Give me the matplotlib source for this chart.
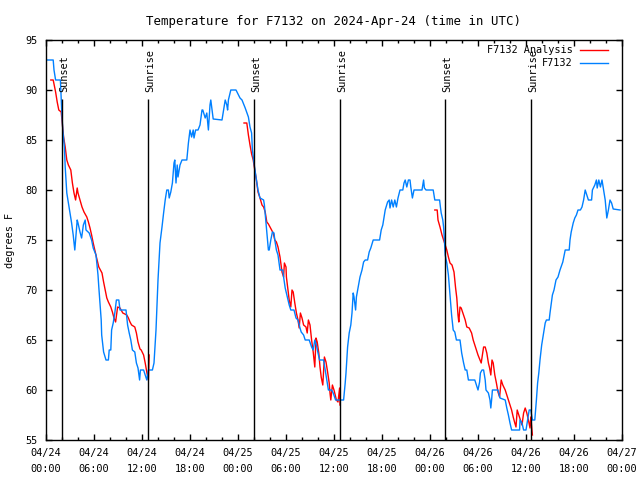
import numpy as np
import pandas as pd
import matplotlib
matplotlib.use('Agg')
import matplotlib.pyplot as plt
import matplotlib.dates as mdates

plt.rcParams['font.family'] = 'DejaVu Sans Mono'
plt.rcParams['font.size'] = 7.4

start = pd.Timestamp('2024-04-24 00:00')

# observed temperature (hours after start, deg F)
obs_hours = [
    0.0, 0.9, 1.0, 1.2, 1.8, 1.96, 2.1, 2.3, 2.4, 2.6, 2.9, 3.2, 3.4, 3.6, 3.9, 4.0,
    4.25, 4.45, 4.67, 4.9, 5.0, 5.4, 5.7, 5.9, 6.25, 6.5, 6.6, 6.75, 6.9, 6.96, 7.2,
    7.5, 7.8, 7.9, 8.1, 8.2, 8.4, 8.6, 8.8, 9.1, 9.25, 10.0, 10.2, 10.4, 10.6, 10.8,
    11.1, 11.3, 11.5, 11.7, 11.8, 12.2, 12.4, 12.6, 12.8, 13.3, 13.5, 13.6, 13.75,
    13.9, 14.0, 14.25, 14.5, 14.7, 14.9, 15.1, 15.3, 15.4, 15.6, 15.8, 16.0, 16.1,
    16.25, 16.4, 16.5, 16.75, 17.0, 17.6, 17.8, 18.0, 18.2, 18.4, 18.5, 18.7, 19.0,
    19.25, 19.5, 19.6, 19.9, 20.1, 20.3, 20.5, 20.6, 20.8, 20.9, 22.0, 22.2, 22.4,
    22.6, 22.7, 22.8, 23.1, 23.75, 24.0, 24.25, 24.5, 24.9, 25.3, 25.5, 25.7, 25.8,
    26.0, 26.25, 26.5, 26.75, 27.2, 27.3, 27.5, 27.6, 27.8, 27.9, 28.1, 28.3, 28.5,
    28.6, 28.8, 29.0, 29.25, 29.6, 29.7, 29.9, 30.2, 30.4, 30.6, 31.0, 31.25, 31.5,
    31.75, 31.9, 32.2, 32.4, 32.9, 33.2, 33.4, 33.6, 33.8, 34.0, 34.2, 34.7, 34.9,
    35.1, 35.3, 35.7, 35.9, 36.2, 37.2, 37.4, 37.5, 37.7, 37.9, 38.1, 38.25, 38.4,
    38.5, 38.7, 38.8, 39.0, 39.25, 39.5, 39.7, 39.9, 40.2, 40.4, 40.6, 40.9, 41.7,
    41.9, 42.1, 42.4, 42.7, 42.9, 43.0, 43.2, 43.4, 43.6, 43.8, 44.0, 44.25, 44.6,
    44.75, 44.9, 45.1, 45.3, 45.5, 45.6, 45.8, 46.0, 47.0, 47.2, 47.3, 47.5, 48.4,
    48.6, 49.2, 49.3, 49.4, 49.6, 49.7, 49.8, 49.9, 50.1, 50.3, 50.5, 50.7, 50.9,
    51.1, 51.3, 51.75, 51.96, 52.2, 52.4, 52.6, 52.8, 53.6, 53.8, 54.0, 54.2, 54.3,
    54.5, 54.7, 54.9, 55.0, 55.3, 55.5, 55.6, 55.7, 55.8, 56.5, 56.75, 57.4, 57.6,
    57.8, 58.0, 58.2, 59.2, 59.25, 59.5, 59.7, 60.0, 60.2, 60.4, 60.6, 60.8, 61.1,
    61.3, 61.45, 61.6, 61.75, 61.96, 62.2, 62.4, 62.55, 62.9, 63.0, 63.3, 63.5,
    63.75, 64.0, 64.25, 64.6, 64.9, 65.4, 65.5, 65.65, 65.9, 66.1, 66.3, 66.5, 66.8,
    67.0, 67.2, 67.4, 67.8, 68.2, 68.3, 68.6, 68.8, 68.9, 69.1, 69.3, 69.5, 69.7,
    69.9, 70.1, 70.3, 70.5, 70.7, 70.9, 71.75,
]
obs_temps = [
    93, 93, 92, 91, 91, 88, 86, 84.3, 82.3, 79.7, 78.2, 76.7, 75.5, 74, 77, 76.7,
    75.8, 75.2, 76.5, 77, 76, 75.7, 75, 74.2, 73.5, 71.5, 70.3, 68.7, 67, 65.5, 63.8,
    63, 63, 64, 64, 66, 66.7, 67.7, 69, 69, 68, 68, 66.5, 65.7, 65, 64,
    63.8, 62.7, 62.2, 61, 62, 62, 61.5, 61, 62, 62, 62.7, 64, 66,
    69, 71, 74.7, 76.3, 77.7, 79, 80, 80, 79.2, 79.8, 80.7, 82.7, 83,
    80.7, 82.5, 81.3, 82.5, 83, 83, 84.7, 86, 85.3, 86, 85.2, 86, 86,
    86.5, 88, 88, 87.2, 87.7, 86, 88.5, 89, 87.7, 87.1, 87, 88, 89,
    88.5, 88, 89, 90, 90, 89.6, 89.2, 89, 88.2, 87.3, 86.3, 85.7, 84,
    82.7, 81.3, 80, 79.2, 79, 78.5, 76.7, 75.7, 74, 74, 75, 75.8, 75.7,
    75, 74, 73.5, 72, 72, 71.3, 70.2, 69.2, 68.5, 68, 68, 67.2, 67,
    66.2, 65.8, 65.5, 65, 65, 64.3, 64, 65, 64.5, 63.7, 63, 63, 62,
    61, 60, 60, 59.7, 59, 59, 60.7, 61.7, 64.3, 65.7, 66.5, 67.7, 69.7,
    69.3, 68, 69.3, 70.2, 71.3, 72, 72.8, 73, 73, 73.8, 74.2, 75, 75,
    76, 76.5, 78, 78.8, 79, 78.2, 79, 78.3, 79, 78.3, 79.2, 80, 80,
    80.7, 81, 80.3, 81, 81, 80.3, 79.2, 80, 80, 81, 80.2, 80, 80,
    79, 79, 78.3, 77.7, 77, 76.3, 75, 73.5, 72.7, 71.5, 69.5, 67.5, 66,
    65.8, 65, 65, 63.7, 62.7, 62, 62, 61, 61, 60.5, 60, 60.8, 61.7,
    62, 62, 61, 60, 59.7, 59, 58.2, 59, 60, 60, 59.2, 59, 58.2,
    57.5, 56.7, 56, 56, 57, 56.7, 56, 56, 57, 58, 58, 57, 57,
    59, 60.7, 61.7, 63, 64.5, 65.7, 66.7, 67, 67, 67.7, 69.5, 70,
    71, 71.3, 72, 72.8, 74, 74, 75, 75.8, 76.7, 77.2, 77.5, 78, 78,
    78.3, 79, 80, 79, 79, 80, 80.5, 81, 80.2, 81, 80.3, 81, 80,
    79, 77.2, 78, 79, 78.7, 78.1, 78,
]

# analysis temperature, nan marks the gaps between nights
ana_hours = [
    0.6, 0.9, 1.2, 1.4, 1.6, 1.9, 2.0, 2.2, 2.4, 2.6, 2.8, 3.1, 3.3, 3.5, 3.7, 3.9,
    4.0, 4.25, 4.5, 4.75, 5.1, 5.3, 5.5, 5.7, 5.9, 6.1, 6.3, 6.6, 7.0, 7.2, 7.4, 7.6,
    7.8, 8.1, 8.3, 8.5, 8.7, 8.95, 9.25, 9.6, 10.1, 10.3, 10.5, 10.7, 11.1, 11.3,
    11.5, 11.75, 11.9, 12.2, 12.4, 12.6, 12.8, 12.9, np.nan,
    24.75, 25.1, 25.3, 25.5, 25.7, 25.9, 26.1, 26.3, 26.5, 26.75, 27.0, 27.2, 27.4,
    27.6, 27.8, 28.0, 28.2, 28.4, 28.6, 28.8, 29.0, 29.25, 29.5, 29.7, 29.8, 30.0,
    30.05, 30.2, 30.4, 30.6, 30.75, 30.9, 31.1, 31.3, 31.5, 31.65, 31.8, 32.0, 32.2,
    32.5, 32.65, 32.8, 33.0, 33.2, 33.4, 33.6, 33.75, 33.9, 34.1, 34.25, 34.4, 34.6,
    34.8, 35.0, 35.2, 35.4, 35.5, 35.6, 35.8, 36.0, 36.15, 36.3, 36.5, 36.7, 36.75,
    np.nan,
    48.6, 48.9, 49.0, 49.25, 49.5, 49.7, 49.9, 50.1, 50.3, 50.5, 50.75, 51.0, 51.2,
    51.35, 51.5, 51.6, 51.75, 51.9, 52.2, 52.4, 52.6, 52.9, 53.2, 53.4, 53.6, 53.8,
    54.0, 54.25, 54.4, 54.7, 54.9, 55.1, 55.3, 55.45, 55.6, 55.75, 55.9, 56.1, 56.3,
    56.5, 56.7, 56.9, 57.1, 57.4, 57.6, 57.8, 58.0, 58.2, 58.4, 58.6, 58.75, 58.9,
    59.1, 59.3, 59.5, 59.7, 59.9, 60.1, 60.3, 60.5, 60.6, 60.8,
]
ana_temps = [
    91, 91, 89.8, 88.8, 88, 87.8, 87, 85.3, 84.3, 83, 82.5, 82, 80.7, 79.7, 79, 80.2,
    79.7, 79, 78.3, 77.8, 77.3, 76.8, 76.2, 75.5, 74.7, 74, 73.3, 72.3, 71.7, 70.8, 70, 69.2,
    68.8, 68.3, 67.8, 67.2, 66.8, 68.3, 68.2, 67.7, 67.5, 67.2, 66.8, 66.5, 66.3, 65.7,
    64.8, 64.1, 64, 63.5, 62.7, 61.8, 61, 63.5, np.nan,
    86.7, 86.7, 85.5, 84.5, 83.6, 83, 82, 81, 79.8, 79.2, 78.5, 78.3, 77.8,
    76.8, 76.6, 76.3, 76, 75.7, 75, 74.8, 74.3, 73.3, 71.8, 71.3, 72.7, 72.3,
    71.3, 70.3, 69, 68.3, 70, 69.8, 68.7, 67.7, 67, 66.2, 67.7, 67.2, 66.5,
    66.3, 65.7, 67, 66.5, 65, 63.8, 62.3, 65.2, 64.8, 63.7, 62.3, 61.3, 60.5,
    63.3, 62.8, 61.8, 60.7, 59.7, 59, 60.5, 60, 59.5, 59, 58.8, 60.2, 58.5,
    np.nan,
    78, 78, 77, 76.3, 75.5, 75, 74.5, 74, 73.3, 72.7, 72.5, 71.8, 70.2,
    69.2, 67.5, 66.8, 68.3, 68.2, 67.5, 67, 66.3, 66.2, 65.7, 65, 64.5, 64,
    63.5, 63, 62.7, 64.3, 64.3, 63.7, 62.7, 62.2, 61.5, 63, 62.7, 61.5, 60.7,
    59.8, 59.3, 61, 60.5, 60, 59.5, 59, 58.5, 58, 57.3, 56.7, 56.3, 58,
    57.5, 57, 56.5, 57.7, 58.2, 57.7, 57, 56.2, 57.3, 55.5,
]

sun_hours = [2.04, 12.79, 26.04, 36.79, 49.91, 60.66]
sun_labels = ['Sunset', 'Sunrise', 'Sunset', 'Sunrise', 'Sunset', 'Sunrise']


def to_num(hours):
    # hours after start -> matplotlib date numbers, nan stays nan (line gap)
    base = mdates.date2num(start)
    return [base + h / 24.0 for h in hours]


fig = plt.figure(figsize=(6.4, 4.8), dpi=100)
ax = fig.add_axes([46 / 640, 40 / 480, 576 / 640, 400 / 480])

ax.plot(to_num(ana_hours), ana_temps, color='#ff0000', linewidth=1, label='F7132 Analysis')
ax.plot(to_num(obs_hours), obs_temps, color='#0080ff', linewidth=1, label='F7132')

for t, lab in zip(to_num(sun_hours), sun_labels):
    ax.vlines(t, 55, 89.1, color='black', linewidth=1)
    ax.text(t + 0.22 / 24, 89.8, lab, rotation=90, ha='center', va='bottom')

ax.set_xlim(to_num([0, 72]))
ax.set_ylim(55, 95)
ax.set_yticks(range(55, 96, 5))

ax.xaxis.set_major_locator(mdates.HourLocator(byhour=range(0, 24, 6)))
ax.xaxis.set_minor_locator(mdates.HourLocator(byhour=range(0, 24, 2)))
ax.xaxis.set_major_formatter(mdates.DateFormatter('%m/%d\n%H:%M'))

ax.tick_params(which='both', direction='in', top=True, right=True, width=1)
ax.tick_params(which='major', length=4)
ax.tick_params(which='minor', length=2.5)
ax.tick_params(axis='x', pad=6)
ax.tick_params(axis='y', pad=6)
for lbl in ax.get_xticklabels():
    lbl.set_linespacing(1.65)
for s in ax.spines.values():
    s.set_linewidth(1)

ax.set_ylabel('degrees F')
ax.yaxis.set_label_coords(-0.053, 0.5)
ax.set_title('Temperature for F7132 on 2024-Apr-24 (time in UTC)', pad=11)

ax.legend(loc='upper right', frameon=False, markerfirst=False,
          bbox_to_anchor=(1 - 9 / 576, 1),
          handlelength=2.7, handletextpad=0.7, borderaxespad=0.2,
          labelspacing=0.3, borderpad=0.3)

fig.savefig('out.png', dpi=100)
